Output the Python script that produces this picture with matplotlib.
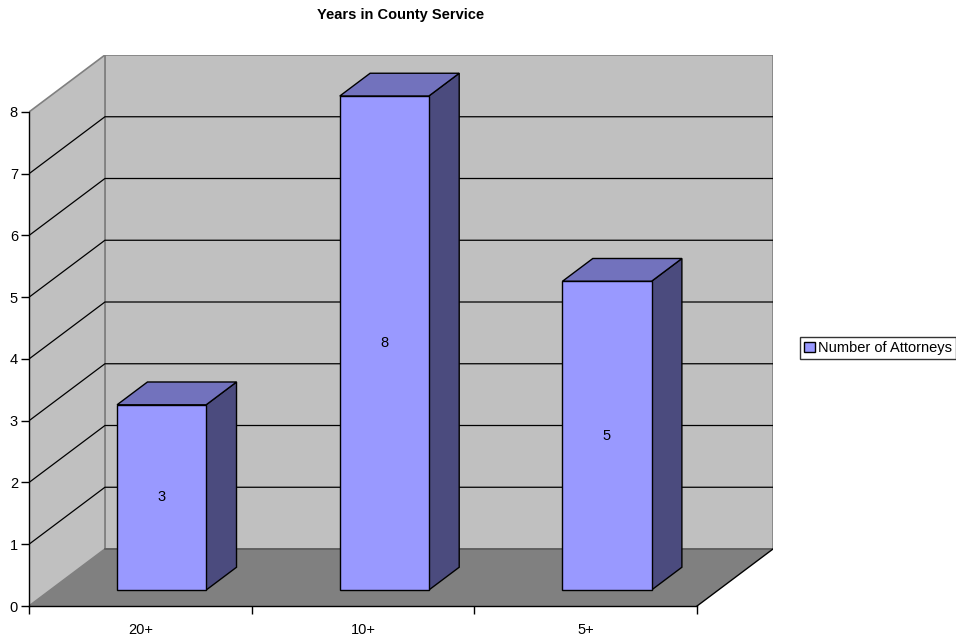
import matplotlib.pyplot as plt
from matplotlib.patches import Polygon, Patch

plt.rcParams['font.family'] = ['Liberation Sans', 'DejaVu Sans']

categories = ['20+', '10+', '5+']
attorneys = [3, 8, 5]
series_name = 'Number of Attorneys'
y_ticks = [0, 1, 2, 3, 4, 5, 6, 7, 8]
title = 'Years in County Service'

# oblique projection of the depth axis (in category / value units)
DX, DY = 0.341, 0.923
Z0, Z1 = 0.28, 0.68          # bar depth range (fraction of full depth)
BW = 0.40                    # bar width (fraction of a category)
YMAX = 8
FS = 10.5
n = len(categories)


def proj(x, y, z):
    return (x + z * DX, y + z * DY)


fig = plt.figure(figsize=(9.56, 6.39), dpi=100)
ax = fig.add_axes([29 / 956, 33 / 639, 744 / 956, 551 / 639])
ax.set_xlim(0, n + DX)
ax.set_ylim(0, YMAX + DY)
ax.set_facecolor('none')

wall = '#c0c0c0'
floor = '#808080'
edge = '#808080'

# back wall and side wall
ax.add_patch(Polygon([proj(0, 0, 1), proj(n, 0, 1), proj(n, YMAX, 1), proj(0, YMAX, 1)],
                     closed=True, facecolor=wall, edgecolor=edge, lw=1.2, zorder=1))
ax.add_patch(Polygon([proj(0, 0, 0), proj(0, 0, 1), proj(0, YMAX, 1), proj(0, YMAX, 0)],
                     closed=True, facecolor=wall, edgecolor=edge, lw=1.2, zorder=1))

# gridlines on both walls
for v in y_ticks[1:-1]:
    ax.plot(*zip(proj(0, v, 0), proj(0, v, 1), proj(n, v, 1)),
            color='black', lw=0.9, zorder=2)

# floor
ax.add_patch(Polygon([proj(0, 0, 0), proj(n, 0, 0), proj(n, 0, 1), proj(0, 0, 1)],
                     closed=True, facecolor=floor, edgecolor='none', zorder=3))
ax.plot(*zip(proj(0, 0, 1), proj(n, 0, 1)), color='#5a5a5a', lw=1.2, zorder=3)
ax.plot(*zip(proj(n, 0, 0), proj(n, 0, 1)), color='black', lw=1.0, zorder=3)

# 3D columns
front_c, side_c, top_c = '#9999ff', '#4b4b7e', '#7272bd'
for i, v in enumerate(attorneys):
    x0 = i + (1 - BW) / 2
    x1 = x0 + BW
    front = [proj(x0, 0, Z0), proj(x1, 0, Z0), proj(x1, v, Z0), proj(x0, v, Z0)]
    side = [proj(x1, 0, Z0), proj(x1, 0, Z1), proj(x1, v, Z1), proj(x1, v, Z0)]
    top = [proj(x0, v, Z0), proj(x1, v, Z0), proj(x1, v, Z1), proj(x0, v, Z1)]
    ax.add_patch(Polygon(side, closed=True, facecolor=side_c, edgecolor='black', lw=1.0, zorder=4))
    ax.add_patch(Polygon(top, closed=True, facecolor=top_c, edgecolor='black', lw=1.0, zorder=4))
    ax.add_patch(Polygon(front, closed=True, facecolor=front_c, edgecolor='black', lw=1.0, zorder=5))
    cx, cy = proj((x0 + x1) / 2, v / 2, Z0)
    ax.text(cx, cy, str(v), ha='center', va='center', fontsize=FS, zorder=6)

# axes
for s in ('top', 'right'):
    ax.spines[s].set_visible(False)
ax.spines['left'].set_bounds(0, YMAX)
ax.spines['bottom'].set_bounds(0, n)
for s in ('left', 'bottom'):
    ax.spines[s].set_linewidth(1.0)
    ax.spines[s].set_zorder(7)

ax.set_yticks(y_ticks)
ax.tick_params(axis='y', direction='out', length=6, width=1.0, labelsize=FS, pad=2)
ax.set_xticks(range(n + 1))
ax.set_xticklabels([])
ax.set_xticks([i + 0.5 for i in range(n)], minor=True)
ax.set_xticklabels(categories, minor=True)
ax.tick_params(axis='x', which='major', direction='out', length=6, width=1.0)
ax.tick_params(axis='x', which='minor', length=0, labelsize=FS, pad=12.5)

fig.text(401 / 956, 1 - 15 / 639, title, ha='center', va='center',
         fontsize=FS, fontweight='bold')

leg = fig.legend(handles=[Patch(facecolor=front_c, edgecolor='black', label=series_name)],
                 loc='center left', bbox_to_anchor=(800 / 956, 1 - 348 / 639),
                 fontsize=FS, frameon=True, fancybox=False, handlelength=0.7,
                 handleheight=0.7, handletextpad=0.2, borderpad=0.3,
                 borderaxespad=0)
leg.get_frame().set_edgecolor('black')
leg.get_frame().set_linewidth(1.0)

fig.savefig('out.png', dpi=100)
